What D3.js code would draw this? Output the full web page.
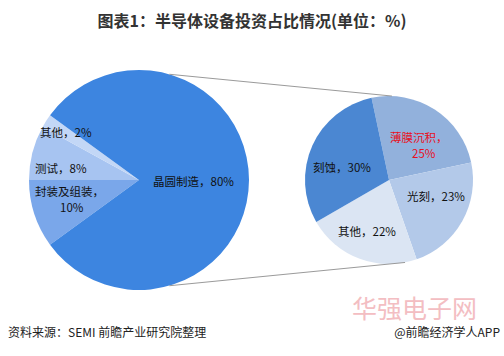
<!DOCTYPE html>
<html><head><meta charset="utf-8">
<script src="https://cdn.jsdelivr.net/npm/d3@7"></script>
<style>html,body{margin:0;padding:0;background:#fff;}svg{display:block;font-family:"Microsoft YaHei","Noto Sans CJK SC",sans-serif;}</style>
</head><body>
<svg id="c" width="504" height="356"></svg>
<script>
const title = "图表1：半导体设备投资占比情况(单位：%)";
const source = "资料来源：SEMI 前瞻产业研究院整理";
const credit = "@前瞻经济学人APP";
// main pie
const mainCats = ["封装及组装", "测试", "其他", "晶圆制造"];
const mainVals = [10, 8, 2, 80];
const mainColors = ["#7aa7ea", "#a7c4f1", "#c3d7f6", "#3d85e0"];
// secondary pie (breakdown of 晶圆制造)
const subCats = ["薄膜沉积", "光刻", "其他", "刻蚀"];
const subVals = [25, 23, 22, 30];
const subColors = ["#92b1dc", "#b3c9e9", "#dbe5f3", "#4b87d2"];

const svg = d3.select("#c");
const deg = Math.PI / 180;

svg.append("text").attr("x", 252).attr("y", 27).attr("text-anchor", "middle")
  .attr("font-size", 16).attr("font-weight", "bold").attr("fill", "#333").text(title);

// main pie
const M = {cx: 139, cy: 180, r: 110};
const mainPie = d3.pie().sort(null).value(d => d).startAngle(234 * deg).endAngle(594 * deg);
const mainArcs = mainPie(mainVals);
const arcM = d3.arc().innerRadius(0).outerRadius(M.r);
const gM = svg.append("g").attr("transform", `translate(${M.cx},${M.cy})`);
gM.selectAll("path").data(mainArcs).join("path").attr("d", arcM)
  .attr("fill", (d, i) => mainColors[i]);

// secondary pie
const S = {cx: 389, cy: 180, r: 84};
const subPie = d3.pie().sort(null).value(d => d).startAngle(-12 * deg).endAngle(348 * deg);
const subArcs = subPie(subVals);
const arcS = d3.arc().innerRadius(0).outerRadius(S.r);
const gS = svg.append("g").attr("transform", `translate(${S.cx},${S.cy})`);
gS.selectAll("path").data(subArcs).join("path").attr("d", arcS)
  .attr("fill", (d, i) => subColors[i]);

// connector lines
function pt(c, a) { return [c.cx + c.r * Math.sin(a * deg), c.cy - c.r * Math.cos(a * deg)]; }
const conns = [[pt(M, 16), pt(S, 2)], [pt(M, 164), pt(S, 169)]];
svg.selectAll("line.conn").data(conns).join("line").attr("class", "conn")
  .attr("x1", d => d[0][0]).attr("y1", d => d[0][1]).attr("x2", d => d[1][0]).attr("y2", d => d[1][1])
  .attr("stroke", "#9a9a9a").attr("stroke-width", 1);

// labels main
const mainLabels = [
  {lines: ["封装及组装，", "10%"], x: [35, 60], y: [196, 212]},
  {lines: ["测试，8%"], x: [35], y: [173]},
  {lines: ["其他，2%"], x: [40], y: [137]},
  {lines: ["晶圆制造，80%"], x: [153], y: [186]}
];
mainLabels.forEach(l => l.lines.forEach((t, j) => svg.append("text")
  .attr("x", l.x[j]).attr("y", l.y[j]).attr("font-size", 11.5).attr("fill", "#111").text(t)));

const subLabels = [
  {lines: ["薄膜沉积，", "25%"], x: [390, 412], y: [142, 158], color: "#e8101e"},
  {lines: ["光刻，23%"], x: [407], y: [201], color: "#111"},
  {lines: ["其他，22%"], x: [338], y: [236], color: "#111"},
  {lines: ["刻蚀，30%"], x: [313], y: [172], color: "#111"}
];
subLabels.forEach(l => l.lines.forEach((t, j) => svg.append("text")
  .attr("x", l.x[j]).attr("y", l.y[j]).attr("font-size", 11.5).attr("fill", l.color).text(t)));

// watermark
svg.append("text").attr("x", 352).attr("y", 318).attr("font-size", 25).attr("fill", "#f2b3b8")
  .attr("opacity", 0.85).text("华强电子网");

svg.append("text").attr("x", 8).attr("y", 337).attr("font-size", 12).attr("fill", "#222").text(source);
svg.append("text").attr("x", 500).attr("y", 337).attr("text-anchor", "end").attr("font-size", 12).attr("fill", "#222").text(credit);
</script>
</body></html>
